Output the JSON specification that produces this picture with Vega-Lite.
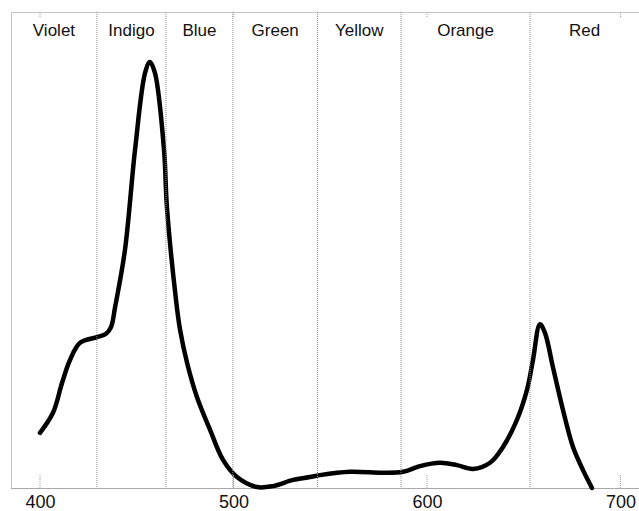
{
  "$schema": "https://vega.github.io/schema/vega-lite/v6.json",
  "width": 628,
  "height": 476,
  "autosize": "none",
  "padding": {"left": 11, "top": 12, "right": 0, "bottom": 23},
  "background": "white",
  "config": {
    "view": {"stroke": "#8a8a8a", "strokeDash": [1, 1], "strokeWidth": 1},
    "font": "Liberation Sans"
  },
  "datasets": {
    "curve": [
      {"wl": 400.0, "v": 11.6}, {"wl": 406.7, "v": 15.8}, {"wl": 411.4, "v": 22.1},
      {"wl": 415.5, "v": 26.9}, {"wl": 420.7, "v": 30.5}, {"wl": 429.5, "v": 31.7},
      {"wl": 434.1, "v": 32.4}, {"wl": 436.7, "v": 33.8}, {"wl": 438.8, "v": 38.0},
      {"wl": 443.9, "v": 50.0}, {"wl": 449.1, "v": 71.0},
      {"wl": 454.3, "v": 87.2}, {"wl": 456.8, "v": 89.5}, {"wl": 459.4, "v": 87.2},
      {"wl": 464.1, "v": 71.0}, {"wl": 465.6, "v": 59.0},
      {"wl": 470.3, "v": 39.5}, {"wl": 472.4, "v": 33.2}, {"wl": 476.0, "v": 26.3},
      {"wl": 481.1, "v": 19.1}, {"wl": 487.9, "v": 12.2}, {"wl": 494.6, "v": 5.9},
      {"wl": 501.8, "v": 2.3}, {"wl": 512.1, "v": 0.2}, {"wl": 520.4, "v": 0.4},
      {"wl": 530.8, "v": 1.7}, {"wl": 539.5, "v": 2.3}, {"wl": 544.7, "v": 2.7},
      {"wl": 560.2, "v": 3.4}, {"wl": 577.3, "v": 3.2}, {"wl": 587.6, "v": 3.4},
      {"wl": 596.4, "v": 4.6}, {"wl": 606.7, "v": 5.3}, {"wl": 615.5, "v": 4.8},
      {"wl": 623.8, "v": 4.0}, {"wl": 632.6, "v": 5.3}, {"wl": 639.3, "v": 8.6},
      {"wl": 646.5, "v": 14.3}, {"wl": 651.7, "v": 20.6}, {"wl": 654.8, "v": 26.9},
      {"wl": 658.4, "v": 34.4}, {"wl": 661.0, "v": 32.6}, {"wl": 665.1, "v": 25.4},
      {"wl": 670.3, "v": 16.4}, {"wl": 675.5, "v": 8.6}, {"wl": 680.6, "v": 3.8},
      {"wl": 685.3, "v": 0.0}
    ],
    "bands": [
      {"name": "Violet", "start": 385.0, "end": 429.4},
      {"name": "Indigo", "start": 429.4, "end": 465.1},
      {"name": "Blue", "start": 465.1, "end": 499.7},
      {"name": "Green", "start": 499.7, "end": 543.4},
      {"name": "Yellow", "start": 543.4, "end": 586.6},
      {"name": "Orange", "start": 586.6, "end": 653.3},
      {"name": "Red", "start": 653.3, "end": 709.6}
    ],
    "ticks": [{"wl": 400}, {"wl": 500}, {"wl": 600}, {"wl": 700}]
  },
  "layer": [
    {
      "data": {"name": "curve"},
      "mark": {"type": "line", "color": "black", "strokeWidth": 4.5, "interpolate": "catmull-rom", "strokeCap": "round", "strokeJoin": "round"},
      "encoding": {
        "x": {
          "field": "wl", "type": "quantitative",
          "scale": {"domain": [385, 709.6], "nice": false, "zero": false},
          "axis": {
            "values": [400, 500, 600, 700],
            "title": null,
            "grid": false,
            "domainColor": "#8a8a8a",
            "domainDash": [1, 1],
            "ticks": false,
            "labelPadding": 5,
            "labelFontSize": 18,
            "labelColor": "#111",
            "labelFont": "Liberation Sans"
          }
        },
        "y": {
          "field": "v", "type": "quantitative",
          "scale": {"domain": [0, 100], "nice": false},
          "axis": null
        }
      }
    },
    {
      "data": {"name": "bands"},
      "transform": [{"filter": "datum.start > 385"}],
      "mark": {"type": "rule", "color": "#8a8a8a", "strokeDash": [1, 1], "strokeWidth": 1},
      "encoding": {
        "x": {"field": "start", "type": "quantitative"}
      }
    },
    {
      "data": {"name": "ticks"},
      "mark": {"type": "rule", "color": "#9a9a9a", "strokeDash": [1, 1], "strokeWidth": 1},
      "encoding": {
        "x": {"field": "wl", "type": "quantitative"},
        "y": {"datum": 0, "type": "quantitative"},
        "y2": {"datum": 2.8}
      }
    },
    {
      "data": {"name": "ticks"},
      "mark": {"type": "rule", "color": "#9a9a9a", "strokeDash": [1, 1], "strokeWidth": 1},
      "encoding": {
        "x": {"field": "wl", "type": "quantitative"},
        "y": {"datum": 100, "type": "quantitative"},
        "y2": {"datum": 98.9}
      }
    },
    {
      "data": {"name": "bands"},
      "transform": [{"calculate": "(datum.start + datum.end) / 2", "as": "mid"}],
      "mark": {"type": "text", "fontSize": 17, "color": "#111", "baseline": "middle", "align": "center"},
      "encoding": {
        "x": {"field": "mid", "type": "quantitative"},
        "y": {"datum": 96, "type": "quantitative"},
        "text": {"field": "name", "type": "nominal"}
      }
    }
  ]
}
